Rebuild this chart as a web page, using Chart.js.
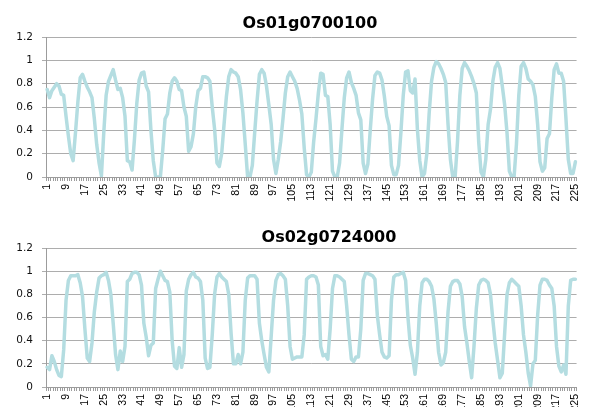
<!DOCTYPE html>
<html>
<head>
<meta charset="utf-8">
<script src="https://cdn.jsdelivr.net/npm/chart.js@4.4.1/dist/chart.umd.min.js"></script>
<style>
html,body{margin:0;padding:0;background:#fff;}
#wrap{position:relative;width:591px;height:407px;overflow:hidden;background:#fff;}
canvas{position:absolute;left:0;}
.title{position:absolute;font-family:"DejaVu Sans",sans-serif;font-weight:bold;font-size:16px;line-height:16px;color:#000;white-space:nowrap;transform:translateX(-50%);}
</style>
</head>
<body>
<div id="wrap">
<canvas id="c1" width="591" height="203" style="top:0px;width:591px;height:203px"></canvas>
<canvas id="c2" width="591" height="204" style="top:203px;width:591px;height:204px"></canvas>
<div class="title" id="t1" style="left:310px;top:15px"></div>
<div class="title" id="t2" style="left:329px;top:229px"></div>
</div>
<script>
// ---- data ----
const chartTitles = ['Os01g0700100', 'Os02g0724000'];
const categories = Array.from({length: 225}, (_, i) => String(i + 1));
const xTickLabels = ['1','9','17','25','33','41','49','57','65','73','81','89','97','105','113','121','129','137','145','153','161','169','177','185','193','201','209','217','225'];
const yTickLabels = ['0','0.2','0.4','0.6','0.8','1','1.2'];

const os01g0700100 = [
0.75,0.68,0.74,0.77,0.80,0.78,0.71,0.70,0.52,0.35,
0.20,0.14,0.38,0.64,0.85,0.88,0.82,0.77,0.73,0.68,
0.50,0.28,0.12,0.01,0.38,0.70,0.82,0.87,0.92,0.83,
0.75,0.76,0.68,0.52,0.14,0.13,0.06,0.32,0.63,0.83,
0.89,0.90,0.78,0.73,0.40,0.14,0.00,0.00,0.00,0.23,
0.50,0.54,0.72,0.82,0.85,0.82,0.75,0.74,0.60,0.52,
0.22,0.26,0.37,0.60,0.74,0.76,0.86,0.86,0.85,0.82,
0.60,0.41,0.12,0.09,0.20,0.45,0.69,0.86,0.92,0.90,
0.89,0.86,0.75,0.55,0.28,0.00,0.00,0.10,0.38,0.65,
0.88,0.92,0.89,0.78,0.62,0.45,0.15,0.03,0.15,0.30,
0.50,0.72,0.86,0.90,0.86,0.82,0.76,0.66,0.54,0.25,
0.02,0.00,0.04,0.30,0.50,0.72,0.89,0.88,0.70,0.69,
0.45,0.05,0.00,0.00,0.12,0.41,0.68,0.85,0.90,0.81,
0.76,0.70,0.55,0.49,0.12,0.03,0.11,0.40,0.67,0.87,
0.90,0.89,0.83,0.69,0.52,0.44,0.10,0.02,0.02,0.10,
0.38,0.70,0.90,0.91,0.74,0.72,0.84,0.41,0.14,0.00,
0.03,0.20,0.55,0.82,0.94,0.99,0.97,0.93,0.88,0.81,
0.45,0.15,0.00,0.00,0.30,0.70,0.93,0.98,0.95,0.91,
0.86,0.80,0.72,0.30,0.04,0.00,0.15,0.45,0.58,0.82,
0.94,0.98,0.93,0.78,0.62,0.38,0.05,0.00,0.00,0.28,
0.70,0.95,0.98,0.93,0.84,0.82,0.79,0.69,0.45,0.13,
0.05,0.08,0.33,0.37,0.68,0.92,0.97,0.89,0.89,0.82,
0.50,0.15,0.03,0.03,0.13
];

const os02g0724000 = [
0.17,0.15,0.27,0.22,0.15,0.10,0.09,0.32,0.75,0.92,
0.96,0.96,0.96,0.97,0.90,0.78,0.50,0.25,0.22,0.38,
0.65,0.82,0.94,0.96,0.97,0.99,0.92,0.80,0.55,0.28,
0.15,0.31,0.22,0.35,0.91,0.93,0.98,0.99,0.99,0.97,
0.88,0.55,0.43,0.27,0.36,0.38,0.85,0.93,1.00,0.96,
0.92,0.91,0.82,0.40,0.18,0.16,0.34,0.17,0.28,0.83,
0.93,0.97,0.99,0.95,0.94,0.91,0.75,0.25,0.16,0.17,
0.45,0.80,0.95,0.98,0.95,0.93,0.91,0.80,0.46,0.20,
0.20,0.28,0.20,0.30,0.75,0.94,0.96,0.96,0.96,0.93,
0.55,0.40,0.28,0.17,0.13,0.44,0.75,0.92,0.97,0.98,
0.96,0.93,0.70,0.35,0.24,0.25,0.26,0.26,0.26,0.45,
0.93,0.95,0.96,0.96,0.95,0.88,0.35,0.27,0.28,0.24,
0.50,0.85,0.96,0.96,0.95,0.93,0.91,0.70,0.45,0.24,
0.22,0.26,0.26,0.50,0.92,0.98,0.98,0.97,0.96,0.93,
0.62,0.45,0.30,0.26,0.25,0.27,0.75,0.95,0.97,0.97,
0.98,0.99,0.92,0.60,0.36,0.25,0.11,0.30,0.70,0.90,
0.93,0.93,0.91,0.87,0.76,0.55,0.30,0.19,0.21,0.30,
0.65,0.87,0.91,0.92,0.92,0.89,0.78,0.52,0.38,0.22,
0.08,0.35,0.68,0.88,0.92,0.93,0.92,0.90,0.80,0.58,
0.38,0.23,0.08,0.12,0.46,0.80,0.90,0.93,0.91,0.89,
0.87,0.70,0.45,0.30,0.12,0.01,0.20,0.23,0.62,0.88,
0.93,0.93,0.92,0.88,0.85,0.70,0.35,0.18,0.13,0.19,
0.11,0.70,0.92,0.93,0.93
];

// ---- drawing ----
document.getElementById('t1').textContent = chartTitles[0];
document.getElementById('t2').textContent = chartTitles[1];

const lineColor = '#B4DDE1';
const gridColor = '#ADADAD';
const axisColor = '#9C9C9C';
const shownX = new Set(xTickLabels);

function makeChart(canvasId, values, padTop, xAxisHeight) {
  return new Chart(document.getElementById(canvasId), {
    type: 'line',
    data: {
      labels: categories,
      datasets: [{
        data: values,
        borderColor: lineColor,
        borderWidth: 3.5,
        pointRadius: 0,
        tension: 0,
        fill: false,
        borderJoinStyle: 'round',
        borderCapStyle: 'round'
      }]
    },
    options: {
      responsive: false,
      animation: false,
      events: [],
      layout: { padding: { top: padTop, left: 0, right: 6, bottom: 0 } },
      plugins: { legend: { display: false }, tooltip: { enabled: false }, title: { display: false } },
      scales: {
        x: {
          type: 'category',
          offset: true,
          grid: { display: true, offset: true, drawOnChartArea: false, drawTicks: true, tickLength: 4, color: axisColor, lineWidth: 1 },
          border: { display: true, color: axisColor, width: 1 },
          ticks: {
            autoSkip: false,
            minRotation: 90,
            maxRotation: 90,
            padding: 3,
            color: '#000',
            font: { family: '"Liberation Sans", Arial, sans-serif', size: 10.5 },
            callback: function(val, idx) {
              const lab = categories[idx];
              return shownX.has(lab) ? lab : '';
            }
          },
          afterFit: function(scale) { scale.height = xAxisHeight; }
        },
        y: {
          min: 0,
          max: 1.2,
          grid: { color: gridColor, lineWidth: 1, drawTicks: true, tickLength: 4 },
          border: { display: true, color: axisColor, width: 1 },
          ticks: {
            stepSize: 0.2,
            padding: 9,
            color: '#111',
            font: { family: '"DejaVu Sans", sans-serif', size: 10.5 },
            callback: function(value) {
              return yTickLabels[Math.round(value / 0.2)];
            }
          },
          afterFit: function(scale) { scale.width = 46; }
        }
      }
    }
  });
}

makeChart('c1', os01g0700100, 37, 26);
makeChart('c2', os02g0724000, 45, 20);
</script>
</body>
</html>
